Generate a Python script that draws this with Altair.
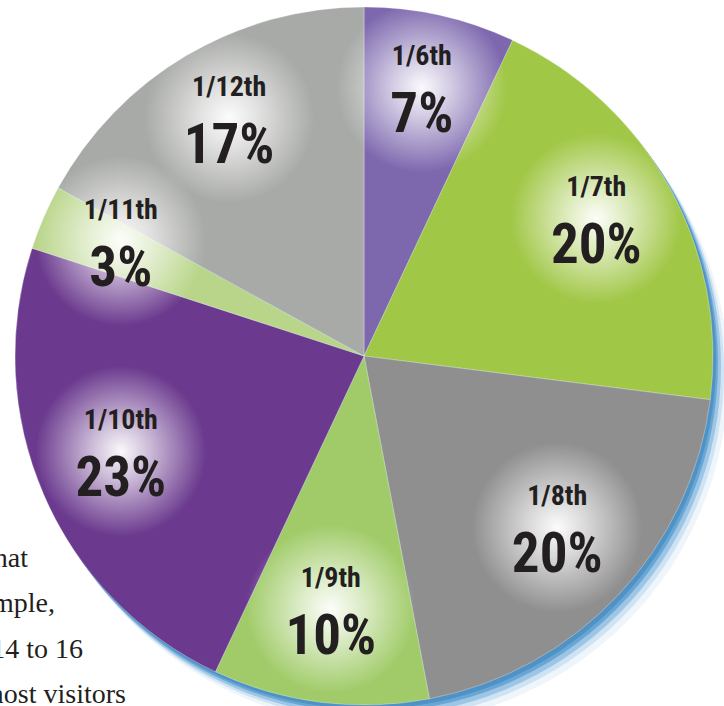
import altair as alt
import pandas as pd

# ---- data ----
labels = ["1/6th", "1/7th", "1/8th", "1/9th", "1/10th", "1/11th", "1/12th"]
shares = [7, 20, 20, 10, 23, 3, 17]
colors = ["#7d68ae", "#a1c747", "#8f8f8f", "#a0cb68", "#6b3a8e", "#b9d58a", "#a8aaa7"]
body_lines = ["that", "example,", "14 to 16", "most visitors"]

W, H = 724, 706
CX, CY, R = 364, 356, 349
LABEL_R = 265

df = pd.DataFrame({"label": labels, "share": shares, "idx": list(range(len(labels)))})
one = pd.DataFrame({"k": [0]})

xs = alt.Scale(domain=[-CX, W - CX], nice=False, zero=False)
ys = alt.Scale(domain=[-(H - CY), CY], nice=False, zero=False)

# soft blue shadow behind the pie, offset down-right
shadow_specs = [(15, 20, "#eef5fb"), (11, 15, "#cfe3f2"), (8, 11, "#9cc5e6"), (5, 7, "#6aa6d3"), (3, 4, "#4f92c6")]
shadows = []
for dx, dy, c in shadow_specs:
    shadows.append(
        alt.Chart(one).mark_arc(outerRadius=R, theta=0, theta2=6.2832, color=c).encode(
            x=alt.value(CX + dx), y=alt.value(CY + dy)
        )
    )

pie = alt.Chart(df).mark_arc(outerRadius=R, stroke="#ffffff", strokeWidth=0.6, strokeOpacity=0.5).encode(
    theta=alt.Theta("share:Q", stack=True),
    color=alt.Color("label:N", scale=alt.Scale(domain=labels, range=colors), legend=None),
    order=alt.Order("idx:Q"),
    x=alt.value(CX),
    y=alt.value(CY),
)

base = (
    alt.Chart(df)
    .transform_window(cum="sum(share)", sort=[alt.SortField("idx")])
    .transform_calculate(mid="(datum.cum - datum.share / 2) / 100 * 2 * PI")
    .transform_calculate(
        lx=f"{LABEL_R} * sin(datum.mid)",
        ly=f"{LABEL_R} * cos(datum.mid)",
        pct="datum.share + '%'",
    )
)

glow_grad = alt.RadialGradient(
    gradient="radial",
    x1=0.5, y1=0.5, x2=0.5, y2=0.5, r1=0, r2=0.5,
    stops=[
        alt.GradientStop(offset=0, color="rgba(255,255,255,0.97)"),
        alt.GradientStop(offset=0.35, color="rgba(255,255,255,0.65)"),
        alt.GradientStop(offset=1, color="rgba(255,255,255,0)"),
    ],
)

glow = base.mark_point(filled=True, shape="circle", size=29000, opacity=1, fill=glow_grad,
                       strokeWidth=0, yOffset=-10).encode(
    x=alt.X("lx:Q", scale=xs, axis=None),
    y=alt.Y("ly:Q", scale=ys, axis=None),
)

font_cond = "Roboto Condensed, DejaVu Sans Condensed, sans-serif"

name_text = base.mark_text(
    font=font_cond, fontSize=28, fontWeight="bold", color="#231f20",
    align="center", baseline="middle", dy=-40,
).encode(
    x=alt.X("lx:Q", scale=xs, axis=None),
    y=alt.Y("ly:Q", scale=ys, axis=None),
    text="label:N",
)

pct_text = base.mark_text(
    font=font_cond, fontSize=55, fontWeight="bold", color="#231f20",
    align="center", baseline="middle", dy=18,
).encode(
    x=alt.X("lx:Q", scale=xs, axis=None),
    y=alt.Y("ly:Q", scale=ys, axis=None),
    text="pct:N",
)

# fragments of body text at the lower left (cut by the page edge, as in the source)
body_right = [28, 55, 83, 126]
body_base = [567, 612, 658, 703]
body_layers = []
for t, xr, yb in zip(body_lines, body_right, body_base):
    body_layers.append(
        alt.Chart(one).mark_text(
            text=t, font="Liberation Serif, serif", fontSize=28,
            color="#231f20", align="right", baseline="alphabetic",
        ).encode(x=alt.value(xr), y=alt.value(yb))
    )

chart = alt.layer(*shadows, pie, glow, name_text, pct_text, *body_layers).properties(
    width=W, height=H, padding=0, autosize=alt.AutoSizeParams(type="none"),
    background="#ffffff",
).configure_view(stroke=None)

chart.save("out.html", embed_options={"renderer": "svg", "actions": False})
